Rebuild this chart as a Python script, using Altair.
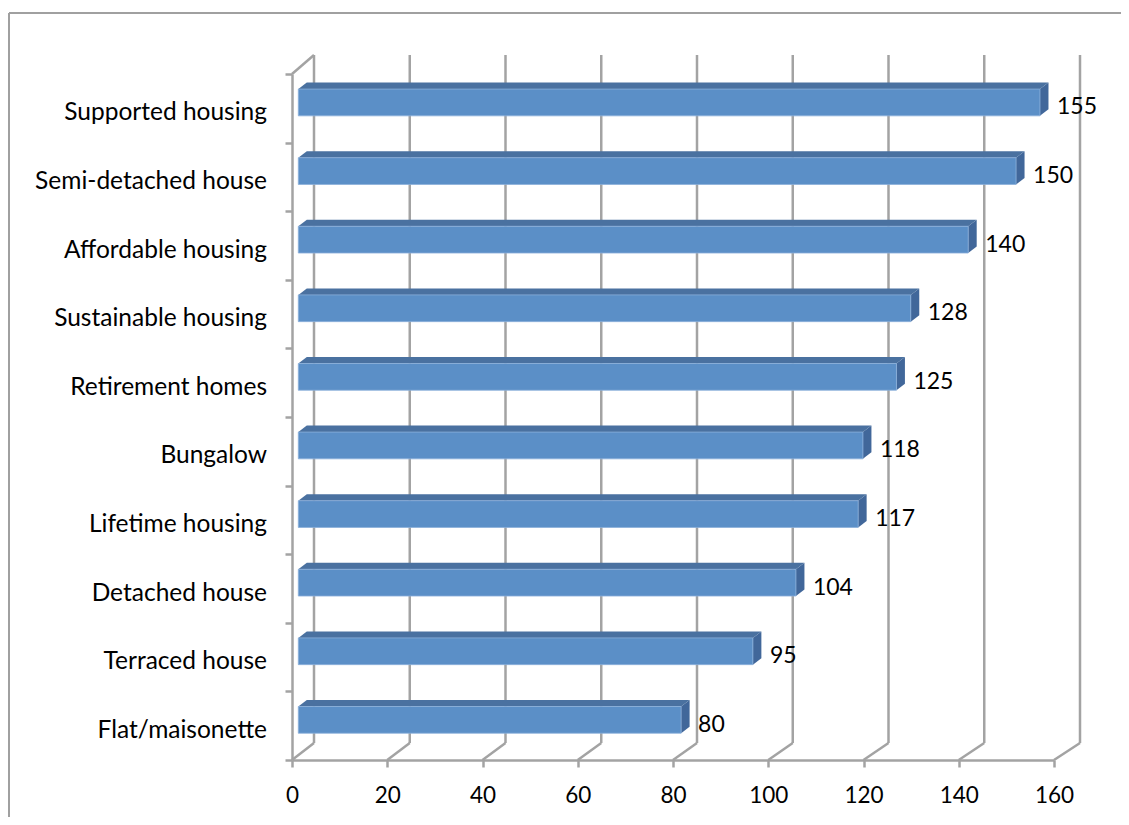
import altair as alt
import pandas as pd

# ---- data ----
categories = ["Flat/maisonette", "Terraced house", "Detached house", "Lifetime housing",
              "Bungalow", "Retirement homes", "Sustainable housing", "Affordable housing",
              "Semi-detached house", "Supported housing"]
values = [80, 95, 104, 117, 118, 125, 128, 140, 150, 155]
x_ticks = [0, 20, 40, 60, 80, 100, 120, 140, 160]

# ---- geometry / style ----
W, H = 762, 686
XMAX, NCAT = 160, len(categories)
PX = W / XMAX          # px per value unit
PY = H / NCAT          # px per category band
GRID = "#A3A3A3"
GW = 2.5
FONT = "Lato"
PAD_L, PAD_T, PAD_R, PAD_B = 284, 66, 67, 57

# 3D wall offsets (px)
BACK_DX, BACK_DY, BACK_TOP = 22, 17, 19
BACK_SCALE = 4.7875 / 4.7625
# bar depth placement (px)
BAR_X0, BAR_SCALE = 6.3, 4.785 / 4.7625
BAR_DX, BAR_DY = 8.5, 6.5
BAR_LO, BAR_HI = 0.39, 0.78

xs = alt.Scale(domain=[0, XMAX], nice=False, zero=False)
ys = alt.Scale(domain=[0, NCAT], nice=False, zero=False)
xax = alt.Axis(values=x_ticks, title=None, grid=False, labelFont=FONT, labelFontSize=22.5,
               labelColor="black", tickSize=7, tickWidth=GW, tickColor=GRID,
               domainColor=GRID, domainWidth=GW, labelPadding=17, labelFlush=False)
yax = alt.Axis(values=list(range(NCAT + 1)), title=None, grid=False, labels=False,
               tickSize=7, tickWidth=GW, tickColor=GRID, domainColor=GRID, domainWidth=GW)

# ---- wall / grid geometry ----
grid_df = pd.DataFrame({
    "x": x_ticks,
    "y": [0.0] * len(x_ticks),
    "xb": [BACK_DX / PX + v * BACK_SCALE for v in x_ticks],
    "yb": [BACK_DY / PY] * len(x_ticks),
    "ytop": [NCAT + BACK_TOP / PY] * len(x_ticks),
})
corner_df = pd.DataFrame({"x": [0.0], "y": [float(NCAT)], "xb": [BACK_DX / PX],
                          "ytop": [NCAT + BACK_TOP / PY]})

# ---- bar geometry ----
front_rows, top_rows, side_rows, lab_rows = [], [], [], []
bdx, bdy = BAR_DX / PX, BAR_DY / PY
for i, (c, v) in enumerate(zip(categories, values)):
    x0 = BAR_X0 / PX
    x1 = x0 + v * BAR_SCALE
    ylo, yhi = i + BAR_LO, i + BAR_HI
    front_rows.append({"cat": c, "x": x0, "x2": x1, "y": ylo, "y2": yhi})
    for xx, y1, y2 in [(x0, yhi, yhi), (x0 + bdx, yhi + bdy, yhi), (x1, yhi + bdy, yhi),
                       (x1 + bdx, yhi + bdy, yhi + bdy)]:
        top_rows.append({"cat": c, "x": xx, "y": y1, "y2": y2})
    for xx, y1, y2 in [(x1, yhi, ylo), (x1 + bdx, yhi + bdy, ylo + bdy)]:
        side_rows.append({"cat": c, "x": xx, "y": y1, "y2": y2})
    lab_rows.append({"cat": c, "val": v, "xl": x1, "yc": i + 0.5})

front_df = pd.DataFrame(front_rows)
top_df = pd.DataFrame(top_rows)
side_df = pd.DataFrame(side_rows)
lab_df = pd.DataFrame(lab_rows)

# ---- layers ----
one = pd.DataFrame({"a": [0]})
border_top = alt.Chart(one).mark_rule(color="#A0A0A0", strokeWidth=2).encode(
    x=alt.value(-283), x2=alt.value(W + PAD_R), y=alt.value(-61))
border_left = alt.Chart(one).mark_rule(color="#A0A0A0", strokeWidth=2).encode(
    x=alt.value(-283), y=alt.value(-61), y2=alt.value(H + PAD_B))

diag = alt.Chart(grid_df).mark_rule(color=GRID, strokeWidth=GW).encode(
    x=alt.X("x:Q", scale=xs, axis=xax), y=alt.Y("y:Q", scale=ys, axis=yax),
    x2="xb:Q", y2="yb:Q")

backv = alt.Chart(grid_df).mark_rule(color=GRID, strokeWidth=GW).encode(
    x=alt.X("xb:Q", scale=xs, axis=xax), y=alt.Y("yb:Q", scale=ys, axis=yax), y2="ytop:Q")

corner = alt.Chart(corner_df).mark_rule(color=GRID, strokeWidth=GW).encode(
    x=alt.X("x:Q", scale=xs, axis=xax), y=alt.Y("y:Q", scale=ys, axis=yax),
    x2="xb:Q", y2="ytop:Q")

side = alt.Chart(side_df).mark_area(orient="vertical", color="#41679A").encode(
    x=alt.X("x:Q", scale=xs, axis=xax), y=alt.Y("y:Q", scale=ys, axis=yax), y2="y2:Q",
    detail="cat:N")

top = alt.Chart(top_df).mark_area(orient="vertical", color="#4A71A0").encode(
    x=alt.X("x:Q", scale=xs, axis=xax), y=alt.Y("y:Q", scale=ys, axis=yax), y2="y2:Q",
    detail="cat:N")

front = alt.Chart(front_df).mark_rect(color="#5B8FC7", stroke="#8CB0DA", strokeWidth=0.8).encode(
    x=alt.X("x:Q", scale=xs, axis=xax), x2="x2:Q",
    y=alt.Y("y:Q", scale=ys, axis=yax), y2="y2:Q")

cat_labels = alt.Chart(lab_df).mark_text(
    align="right", baseline="middle", font=FONT, fontSize=24.5, color="black", dy=5
).encode(x=alt.value(-25), y=alt.Y("yc:Q", scale=ys, axis=yax), text="cat:N")

val_labels = alt.Chart(lab_df).mark_text(
    align="left", baseline="middle", font=FONT, fontSize=23, color="black", dx=17, dy=-1
).encode(x=alt.X("xl:Q", scale=xs, axis=xax), y=alt.Y("yc:Q", scale=ys, axis=yax),
         text="val:Q")

chart = alt.layer(border_top, border_left, diag, backv, corner, side, top, front,
                  cat_labels, val_labels).properties(
    width=W, height=H,
    background="white",
    padding={"left": PAD_L, "top": PAD_T, "right": PAD_R, "bottom": PAD_B},
    autosize=alt.AutoSizeParams(type="none"),
).configure_view(stroke=None, strokeWidth=0)

chart.save("out.html", embed_options={"renderer": "svg", "actions": False})
